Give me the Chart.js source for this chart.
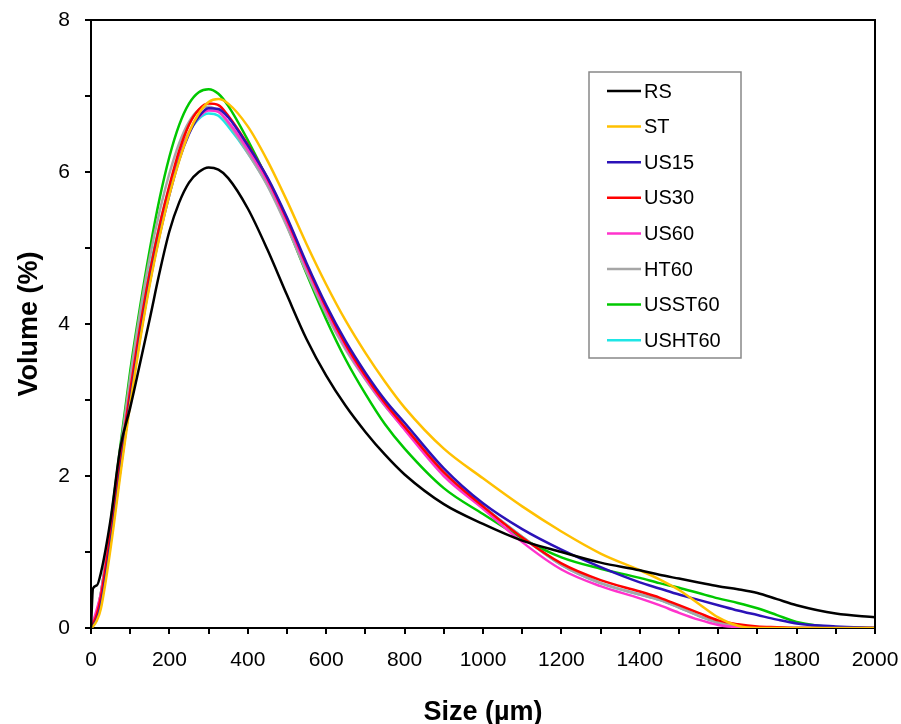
<!DOCTYPE html>
<html>
<head>
<meta charset="utf-8">
<script src="https://cdn.jsdelivr.net/npm/chart.js@4.4.0/dist/chart.umd.min.js"></script>
<style>
html,body{margin:0;padding:0;background:#fff;}
#wrap{position:relative;width:901px;height:724px;}
canvas{display:block;}
</style>
</head>
<body>
<div id="wrap"><canvas id="c" width="901" height="724"></canvas></div>
<script>
// Particle size (µm)
const sizes = [0, 5, 15, 25, 50, 75, 100, 125, 150, 175, 200, 225, 250, 275, 300, 325, 350, 400, 450, 500, 550, 600, 650, 700, 750, 800, 900, 1000, 1100, 1200, 1300, 1400, 1450, 1500, 1550, 1600, 1650, 1700, 1750, 1800, 1900, 2000];

// Volume (%) series
const RS     = [0, 0.52, 0.56, 0.72, 1.43, 2.38, 2.9, 3.48, 4.07, 4.68, 5.22, 5.6, 5.86, 6.0, 6.06, 6.03, 5.92, 5.52, 4.98, 4.38, 3.8, 3.32, 2.92, 2.58, 2.28, 2.02, 1.63, 1.37, 1.15, 1.0, 0.86, 0.76, 0.7, 0.65, 0.6, 0.55, 0.51, 0.46, 0.38, 0.3, 0.19, 0.14];
const ST     = [0, 0.02, 0.1, 0.25, 1.05, 2.02, 2.95, 3.78, 4.52, 5.15, 5.7, 6.15, 6.52, 6.77, 6.92, 6.96, 6.9, 6.6, 6.15, 5.62, 5.05, 4.52, 4.04, 3.62, 3.24, 2.9, 2.36, 1.97, 1.6, 1.27, 0.98, 0.76, 0.64, 0.5, 0.32, 0.14, 0.03, 0, 0, 0, 0, 0];
const US15   = [0, 0.03, 0.12, 0.3, 1.12, 2.08, 3.0, 3.82, 4.55, 5.17, 5.7, 6.16, 6.5, 6.73, 6.84, 6.83, 6.72, 6.35, 5.93, 5.4, 4.8, 4.25, 3.77, 3.36, 3.0, 2.7, 2.1, 1.64, 1.3, 1.03, 0.8, 0.6, 0.52, 0.44, 0.37, 0.3, 0.23, 0.17, 0.11, 0.06, 0.02, 0];
const US30   = [0, 0.05, 0.18, 0.4, 1.25, 2.2, 3.12, 3.95, 4.68, 5.3, 5.82, 6.28, 6.62, 6.82, 6.9, 6.88, 6.74, 6.36, 5.92, 5.38, 4.78, 4.22, 3.73, 3.32, 2.96, 2.65, 2.05, 1.6, 1.19, 0.85, 0.63, 0.48, 0.4, 0.3, 0.2, 0.1, 0.05, 0.02, 0.01, 0, 0, 0];
const US60   = [0, 0.08, 0.25, 0.45, 1.28, 2.22, 3.13, 3.95, 4.66, 5.25, 5.76, 6.2, 6.52, 6.72, 6.81, 6.79, 6.66, 6.3, 5.88, 5.34, 4.74, 4.18, 3.7, 3.29, 2.93, 2.61, 2.0, 1.57, 1.13, 0.77, 0.55, 0.39, 0.3, 0.2, 0.11, 0.04, 0.01, 0, 0, 0, 0, 0];
const HT60   = [0, 0.05, 0.2, 0.45, 1.35, 2.35, 3.3, 4.15, 4.88, 5.48, 5.98, 6.38, 6.66, 6.82, 6.86, 6.8, 6.64, 6.25, 5.82, 5.28, 4.68, 4.13, 3.66, 3.27, 2.92, 2.62, 2.02, 1.6, 1.2, 0.83, 0.59, 0.44, 0.37, 0.27, 0.16, 0.07, 0.02, 0, 0, 0, 0, 0];
const USST60 = [0, 0.05, 0.2, 0.45, 1.38, 2.4, 3.38, 4.22, 4.98, 5.65, 6.2, 6.62, 6.9, 7.05, 7.09, 7.03, 6.87, 6.42, 5.9, 5.3, 4.66, 4.06, 3.53, 3.08, 2.68, 2.36, 1.84, 1.5, 1.18, 0.93, 0.78, 0.66, 0.59, 0.53, 0.46, 0.39, 0.33, 0.26, 0.17, 0.08, 0.01, 0];
const USHT60 = [0, 0.05, 0.2, 0.42, 1.3, 2.28, 3.2, 4.02, 4.72, 5.3, 5.8, 6.22, 6.52, 6.7, 6.77, 6.74, 6.6, 6.25, 5.83, 5.3, 4.7, 4.15, 3.68, 3.28, 2.93, 2.62, 2.03, 1.6, 1.2, 0.83, 0.59, 0.44, 0.37, 0.27, 0.16, 0.07, 0.02, 0, 0, 0, 0, 0];

const seriesNames = ['RS', 'ST', 'US15', 'US30', 'US60', 'HT60', 'USST60', 'USHT60'];
const seriesValues = [RS, ST, US15, US30, US60, HT60, USST60, USHT60];
const seriesColors = ['#000000', '#FFC000', '#2B12B8', '#FF0000', '#FF33CC', '#A6A6A6', '#00C800', '#1EE6E6'];

const xTicks = { min: 0, max: 2000, step: 100, labelEvery: 200 };
const yTicks = { min: 0, max: 8, step: 1, labelEvery: 2 };
const xTitle = 'Size (µm)';
const yTitle = 'Volume (%)';

const FONT = "'Liberation Sans', Arial, sans-serif";

const datasets = seriesNames.map((name, i) => ({
  label: name,
  data: sizes.map((s, j) => ({ x: s, y: seriesValues[i][j] })),
  borderColor: seriesColors[i],
  backgroundColor: seriesColors[i],
  borderWidth: 2.5,
  pointRadius: 0,
  cubicInterpolationMode: 'monotone',
  fill: false
}));

const framePlugin = {
  id: 'frame',
  afterDatasetsDraw(chart) {
    const { ctx, chartArea: a } = chart;
    ctx.save();
    ctx.strokeStyle = '#000';
    ctx.lineWidth = 2;
    ctx.beginPath();
    ctx.moveTo(a.left, a.top);
    ctx.lineTo(a.right, a.top);
    ctx.lineTo(a.right, a.bottom);
    ctx.stroke();
    ctx.restore();
  }
};

const boxLegendPlugin = {
  id: 'boxLegend',
  afterDraw(chart) {
    const { ctx } = chart;
    const bx = 589, by = 72, bw = 152, bh = 286;
    ctx.save();
    ctx.fillStyle = '#fff';
    ctx.fillRect(bx, by, bw, bh);
    ctx.strokeStyle = '#888';
    ctx.lineWidth = 1.5;
    ctx.strokeRect(bx, by, bw, bh);
    ctx.font = '20px ' + FONT;
    ctx.textBaseline = 'middle';
    ctx.textAlign = 'left';
    chart.data.datasets.forEach((ds, i) => {
      const y = by + 19 + i * 35.6;
      ctx.strokeStyle = ds.borderColor;
      ctx.lineWidth = 2.5;
      ctx.beginPath();
      ctx.moveTo(607, y);
      ctx.lineTo(641, y);
      ctx.stroke();
      ctx.fillStyle = '#000';
      ctx.fillText(ds.label, 644, y + 1);
    });
    ctx.restore();
  }
};

new Chart(document.getElementById('c'), {
  type: 'line',
  data: { datasets },
  plugins: [framePlugin, boxLegendPlugin],
  options: {
    responsive: false,
    animation: false,
    devicePixelRatio: 1,
    layout: { padding: { left: 0, top: 20, right: 26, bottom: 0 } },
    plugins: { legend: { display: false }, tooltip: { enabled: false } },
    scales: {
      x: {
        type: 'linear',
        min: xTicks.min, max: xTicks.max,
        afterFit(scale) { scale.height = 96; scale.paddingLeft = 0; scale.paddingRight = 0; },
        ticks: {
          stepSize: xTicks.step,
          autoSkip: false,
          maxRotation: 0,
          padding: 14,
          color: '#000',
          font: { family: FONT, size: 21 },
          callback: v => (v % xTicks.labelEvery === 0 ? String(v) : '')
        },
        grid: { display: true, drawOnChartArea: false, drawTicks: true, tickLength: 6, color: '#000', lineWidth: 2 },
        border: { display: true, color: '#000', width: 2 },
        title: { display: true, text: xTitle, color: '#000', font: { family: FONT, size: 27, weight: 'bold' }, padding: { top: 0, bottom: -5 } }
      },
      y: {
        type: 'linear',
        min: yTicks.min, max: yTicks.max,
        afterFit(scale) { scale.width = 91; scale.paddingTop = 0; scale.paddingBottom = 0; },
        ticks: {
          stepSize: yTicks.step,
          autoSkip: false,
          padding: 15,
          color: '#000',
          font: { family: FONT, size: 21 },
          callback: v => (v % yTicks.labelEvery === 0 ? String(v) : '')
        },
        grid: { display: true, drawOnChartArea: false, drawTicks: true, tickLength: 6, color: '#000', lineWidth: 2 },
        border: { display: true, color: '#000', width: 2 },
        title: { display: true, text: yTitle, color: '#000', font: { family: FONT, size: 27, weight: 'bold' }, padding: { top: 13, bottom: 0 } }
      }
    }
  }
});
</script>
</body>
</html>
